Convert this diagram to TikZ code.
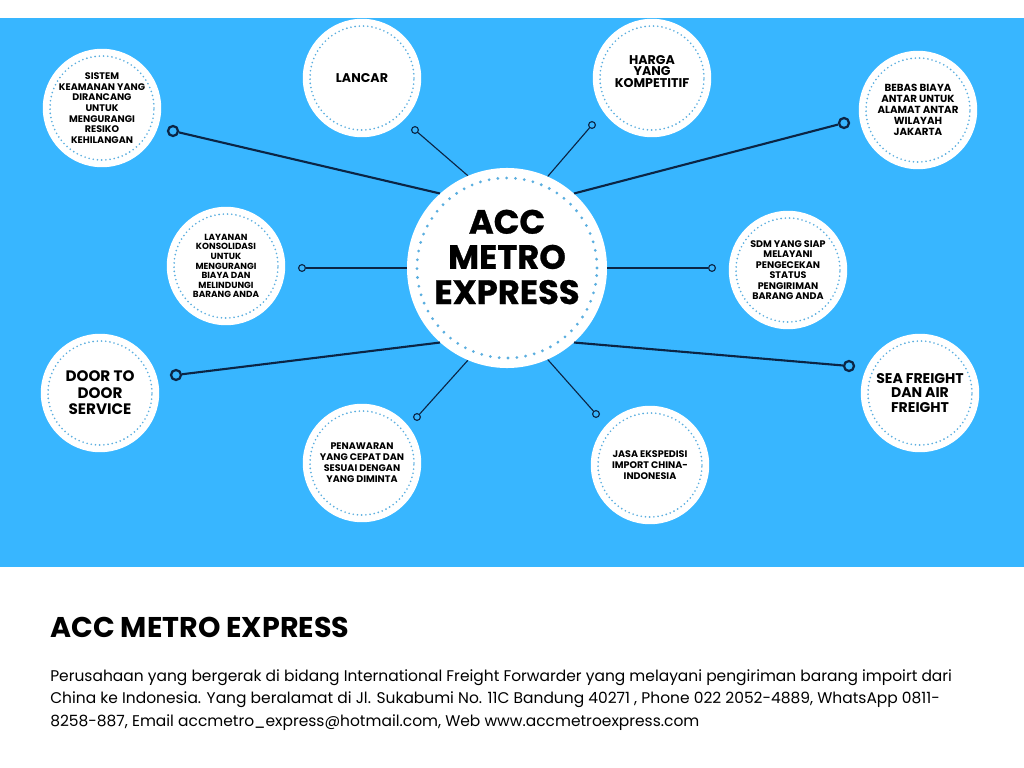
\documentclass[tikz,border=0pt]{standalone}
\usepackage{fontspec}
\setmainfont{Poppins}
\newfontfamily\heavyfont{Poppins}[BoldFeatures={FakeBold=0.8}]
\usepackage{tikz}
\definecolor{ACCBlue}{HTML}{38B6FF}
\definecolor{ACCNavy}{HTML}{0B2545}
\definecolor{ACCDots}{HTML}{5AAEDF}

\begin{document}
\begin{tikzpicture}[x=0.025cm,y=-0.025cm,
  hub/.style={circle,fill=white,minimum size=5cm,inner sep=0pt},
  hubtitle/.style={align=center,inner sep=0pt,font=\heavyfont\bfseries\fontsize{24}{25}\selectfont},
  spot/.style={circle,fill=white,minimum size=2.96cm,inner sep=0pt,align=center},
  bigring/.style={circle,draw=ACCNavy,line width=1.6pt,minimum size=0.25cm,inner sep=0pt},
  smallring/.style={circle,draw=ACCNavy,line width=0.8pt,minimum size=0.17cm,inner sep=0pt},
  longlink/.style={ACCNavy,line width=1.5pt},
  shortlink/.style={ACCNavy,line width=0.8pt},
  hubdots/.style={ACCDots,line width=2.2pt,line cap=round,dash pattern=on 0pt off 6.3pt},
  spotdots/.style={ACCDots,line width=1.3pt,line cap=round,dash pattern=on 0pt off 3pt}]
\path[use as bounding box] (0,0) rectangle (1024,768);
\fill[ACCBlue] (0,18) rectangle (1024,567);
\node[hub] (hub) at (507,268) {};
\node[hubtitle] (hubtext) at (507,257) {ACC\\METRO\\EXPRESS};
\node[spot,font=\bfseries\fontsize{6.8}{7.6}\selectfont] (sistem) at (102,108) {SISTEM\\KEAMANAN YANG\\DIRANCANG\\UNTUK\\MENGURANGI\\RESIKO\\KEHILANGAN};
\node[spot,font=\bfseries\fontsize{9}{10}\selectfont] (lancar) at (362,78) {LANCAR};
\node[spot,font=\bfseries\fontsize{9}{8.4}\selectfont] (harga) at (652,78) {HARGA\\YANG\\KOMPETITIF\\[1pt]};
\node[spot,font=\bfseries\fontsize{7.3}{7.8}\selectfont] (bebas) at (918,110) {BEBAS BIAYA\\ANTAR UNTUK\\ALAMAT ANTAR\\WILAYAH\\JAKARTA};
\node[spot,font=\bfseries\fontsize{6.3}{6.8}\selectfont] (layanan) at (226,266) {LAYANAN\\KONSOLIDASI\\UNTUK\\MENGURANGI\\BIAYA DAN\\MELINDUNGI\\BARANG ANDA};
\node[spot,font=\bfseries\fontsize{6.8}{7.5}\selectfont] (sdm) at (788,270) {SDM YANG SIAP\\MELAYANI\\PENGECEKAN\\STATUS\\PENGIRIMAN\\BARANG ANDA};
\node[spot,font=\bfseries\fontsize{10.8}{11.8}\selectfont] (door) at (100,393) {DOOR TO\\DOOR\\SERVICE};
\node[spot,font=\bfseries\fontsize{10}{10}\selectfont] (sea) at (920,393) {SEA FREIGHT\\DAN AIR\\FREIGHT};
\node[spot,font=\bfseries\fontsize{6.8}{7.8}\selectfont] (penawaran) at (362,463) {PENAWARAN\\YANG CEPAT DAN\\SESUAI DENGAN\\YANG DIMINTA};
\node[spot,font=\bfseries\fontsize{6.8}{7.6}\selectfont] (jasa) at (650,465) {JASA EKSPEDISI\\IMPORT CHINA-\\INDONESIA};
\draw[hubdots] (hub) circle (2.25cm);
\draw[spotdots] (sistem) circle (1.3cm);
\draw[spotdots] (lancar) circle (1.3cm);
\draw[spotdots] (harga) circle (1.3cm);
\draw[spotdots] (bebas) circle (1.3cm);
\draw[spotdots] (layanan) circle (1.3cm);
\draw[spotdots] (sdm) circle (1.3cm);
\draw[spotdots] (door) circle (1.3cm);
\draw[spotdots] (sea) circle (1.3cm);
\draw[spotdots] (penawaran) circle (1.3cm);
\draw[spotdots] (jasa) circle (1.3cm);
\node[bigring] (sistemend) at (173,131) {};
\node[bigring] (bebasend) at (844,123) {};
\node[bigring] (doorend) at (176,375) {};
\node[bigring] (seaend) at (849,366) {};
\node[smallring] (lancarend) at (415,130) {};
\node[smallring] (hargaend) at (592,125) {};
\node[smallring] (layananend) at (302,268) {};
\node[smallring] (sdmend) at (712,268) {};
\node[smallring] (penawaranend) at (417,417) {};
\node[smallring] (jasaend) at (596,414) {};
\draw[longlink] (hub.132) -- (sistemend);
\draw[longlink] (hub.48) -- (bebasend);
\draw[longlink] (hub.228) -- (doorend);
\draw[longlink] (hub.312) -- (seaend);
\draw[shortlink] (hub.113) -- (lancarend);
\draw[shortlink] (hub.66) -- (hargaend);
\draw[shortlink] (hub.180) -- (layananend);
\draw[shortlink] (hub.0) -- (sdmend);
\draw[shortlink] (hub.247) -- (penawaranend);
\draw[shortlink] (hub.294) -- (jasaend);
\node[anchor=base west,inner sep=0pt,font=\bfseries\fontsize{20.3}{21}\selectfont] (title) at (50,637) {ACC METRO EXPRESS};
\node[anchor=north west,align=left,inner sep=0pt,font=\fontsize{11}{16.2}\selectfont] (about) at (50,669) {Perusahaan yang bergerak di bidang International Freight Forwarder yang melayani pengiriman barang impoirt dari\\China ke Indonesia. Yang beralamat di Jl. Sukabumi No. 11C Bandung 40271 , Phone 022 2052-4889, WhatsApp 0811-\\8258-887, Email accmetro\_express@hotmail.com, Web www.accmetroexpress.com};
\end{tikzpicture}
\end{document}
